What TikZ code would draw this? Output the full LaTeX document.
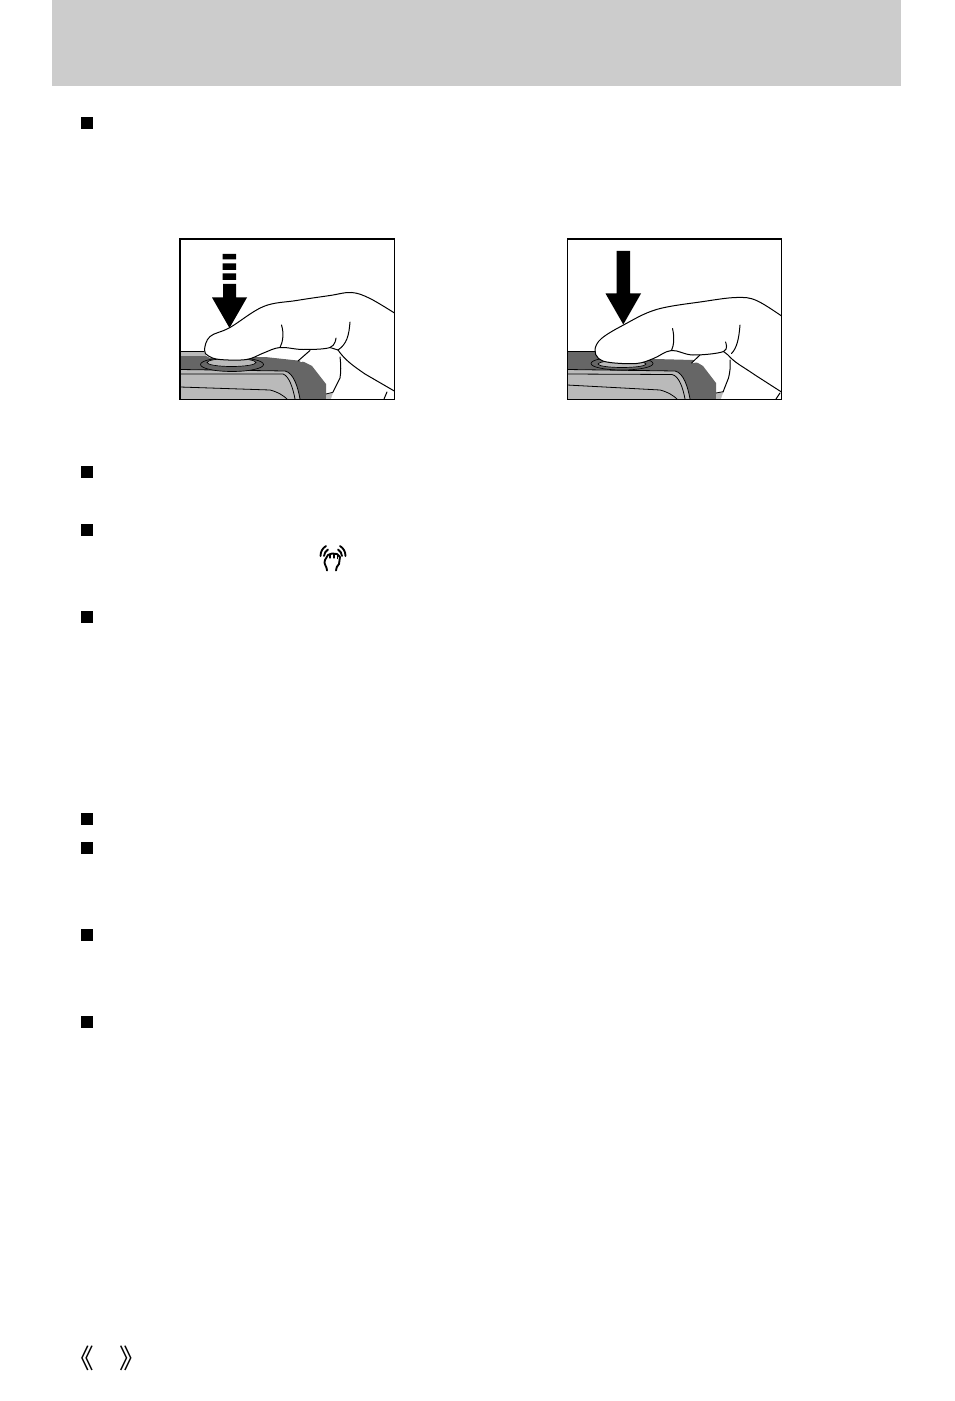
\documentclass[tikz,border=0pt]{standalone}
\usepackage{fontspec}
\newfontfamily\cjkfont{Noto Sans CJK SC}
\definecolor{hdr}{gray}{0.80}
\definecolor{bodydark}{gray}{0.40}
\definecolor{bodylight}{gray}{0.73}
\tikzset{
  bulletbox/.style={fill=black,inner sep=0pt,minimum size=8.8pt,draw=none},
  inkline/.style={draw=black,line width=0.75pt,line join=round,line cap=round},
  framebox/.style={draw=black,line width=1.1pt},
  thinline/.style={draw=black,line width=0.6pt},
  iconline/.style={draw=black,line width=1.4pt,line cap=round,line join=round},
  bracket/.style={font=\cjkfont\fontsize{20pt}{20pt}\selectfont,inner sep=0pt}
}
\begin{document}
\begin{tikzpicture}[x=0.75pt,y=-0.75pt]
\useasboundingbox[fill=white] (0,0) rectangle (954,1401);
\fill[hdr] (52,0) rectangle (901,86);
\foreach \n/\y in {a/123,b/472,c/530,d/617,e/819,f/848,g/935,h/1022}
  \node[bulletbox] (bullet\n) at (87,\y) {};
% left panel
\begin{scope}
\clip (180,239) rectangle (394,399);
\fill[bodylight] (180,351) rectangle (206,357);
\draw[thinline] (180,351) -- (204,351);
\fill[bodydark] (180,356) -- (206,356) -- (210,358) -- (265,357) -- (302,361) -- (312,366) -- (326,384) -- (326,399) -- (180,399) -- cycle;
\fill[bodylight] (180,369.5) -- (285,371) .. controls (294,373) and (298,388) .. (300,399) -- (180,399) -- cycle;
\draw[thinline] (180,369.5) -- (285,371) .. controls (294,373) and (298,388) .. (300,399);
\draw[thinline] (180,374) -- (283,374) .. controls (289,376) and (293,388) .. (295,399);
\draw[thinline] (180,387) -- (270,390) .. controls (278,392) and (284,396) .. (287,399);
\fill[bodylight] (326,394) -- (334,392) -- (340,394) -- (342,399) -- (326,399) -- cycle;
\draw[thinline] (326,394) -- (334,392) -- (340,394) -- (342,399);
% button
\filldraw[fill=bodydark,draw=black,line width=0.5pt] (232,364.5) ellipse (31.5 and 7);
\filldraw[fill=bodylight,draw=black,line width=0.5pt] (231.5,362.5) ellipse (24.5 and 4);
% hand
\path[fill=white] plot[smooth,tension=0.6] coordinates {(396,314) (370,298.5) (351.5,292.5) (330,295.5) (296.5,300.5) (263.5,306.5) (230,327.5) (210,336.5) (204.5,350) (208.5,356) (220,359.5) (246.5,359.5) (263.5,353) (280,347.5) (303,349.5) (330,347.5)} -- (338,350) -- (396,392) -- cycle;
\fill[white] (300,362) -- (310,350) -- (338,350) -- (357,367) -- (396,392) -- (396,399) -- (331,399) -- (340,373) -- (340,357) -- cycle;
\draw[inkline] plot[smooth,tension=0.6] coordinates {(396,314) (370,298.5) (351.5,292.5) (330,295.5) (296.5,300.5) (263.5,306.5) (230,327.5) (210,336.5) (204.5,350) (208.5,356) (220,359.5) (246.5,359.5) (263.5,353) (280,347.5) (303,349.5) (330,347.5) (336,338)};
\draw[inkline] (281.5,325) .. controls (284,333) and (283,342) .. (280,347.5);
\draw[inkline] (350,322) .. controls (349,335) and (347,344) .. (338,350);
\draw[inkline] (330,347.5) -- (338,350) .. controls (345,360) and (352,365) .. (365,374) -- (396,392);
\draw[inkline] (340,357) .. controls (341,365) and (341,372) .. (340,378) -- (333,392);
\draw[inkline] (298,361) -- (310,350.5);
\draw[inkline] (384,399) -- (387,392);
% arrow
\fill[black] (222.5,254) rectangle (236,259.5) (222.5,263.5) rectangle (236,270) (222.5,273.5) rectangle (236,280);
\fill[black] (223,284) -- (236,284) -- (236,297.5) -- (247,297.5) -- (229.5,328) -- (212,297.5) -- (223,297.5) -- cycle;
\end{scope}
\draw[framebox] (180,239) rectangle (394.5,399.5);
% right panel
\begin{scope}
\clip (567.5,239) rectangle (781.5,399);
\fill[bodydark] (567,351.5) -- (595,351.5) -- (600,362) -- (655,359) -- (693,360) -- (703,366) -- (716,383) -- (716,399) -- (567,399) -- cycle;
\fill[bodylight] (567,369.5) -- (675,371) .. controls (684,373) and (688,388) .. (690,399) -- (567,399) -- cycle;
\draw[thinline] (567,369.5) -- (675,371) .. controls (684,373) and (688,388) .. (690,399);
\draw[thinline] (567,374) -- (672,374.5) .. controls (679,376) and (683,388) .. (685,399);
\draw[thinline] (567,385) -- (660,390) .. controls (668,392) and (674,396) .. (677,399);
\fill[bodylight] (716,393) -- (724,391.5) -- (730,393) -- (732,399) -- (716,399) -- cycle;
\draw[thinline] (716,393) -- (724,391.5) -- (730,393) -- (732,399);
\draw[thinline] (567,351) -- (595,351);
\filldraw[fill=bodydark,draw=black,line width=0.5pt] (622,363.5) ellipse (31 and 6.5);
\filldraw[fill=bodylight,draw=black,line width=0.5pt] (622,364) ellipse (24 and 3.5);
\path[fill=white] plot[smooth,tension=0.6] coordinates {(783,317) (756.5,300.5) (736.5,297.5) (703.5,301.5) (656.5,309.5) (623.5,325) (601.5,338.5) (595,349.5) (598.5,358.5) (610,362.5) (636.5,363.5) (653.5,358.5) (671.5,350.5) (693,355) (723.5,351.5)} -- (728,355) -- (783,393) -- cycle;
\fill[white] (691,363) -- (700,355) -- (728,355) -- (750,370) -- (783,393) -- (783,399) -- (721,399) -- (729,376) -- (730,360) -- cycle;
\draw[inkline] plot[smooth,tension=0.6] coordinates {(783,317) (756.5,300.5) (736.5,297.5) (703.5,301.5) (656.5,309.5) (623.5,325) (601.5,338.5) (595,349.5) (598.5,358.5) (610,362.5) (636.5,363.5) (653.5,358.5) (671.5,350.5) (693,355) (723.5,351.5) (725.5,342)};
\draw[inkline] (672.5,328.5) .. controls (674.5,337) and (674,345) .. (671.5,350.5);
\draw[inkline] (740,325) .. controls (739,338) and (737,348) .. (731.5,353.5);
\draw[inkline] (723.5,351.5) -- (728,355) .. controls (735,363) and (742,366) .. (755,375) -- (783,393);
\draw[inkline] (730,360) .. controls (730.5,367) and (730,372) .. (728.5,378) -- (723,392);
\draw[inkline] (691.5,363) -- (700,355);
\draw[inkline] (776,399) -- (780,393);
\fill[black] (616.5,251) -- (630,251) -- (630,293.5) -- (641,293.5) -- (623.3,324.5) -- (605.5,293.5) -- (616.5,293.5) -- cycle;
\end{scope}
\draw[framebox] (567.5,239) rectangle (781.5,399.5);
% hand-shake icon
\begin{scope}
\draw[iconline] (327,570.5) .. controls (327,566) and (323,564) .. (325,560) -- (328,555) -- (332,553.5) -- (337,554) -- (340,557) -- (339,564) .. controls (337,566) and (336,568) .. (336,570.5);
\draw[iconline,line width=0.8pt] (330,554) -- (330,558) (334,553.5) -- (334,558) (337.5,555) -- (337.5,558.5);
\draw[iconline] (320.5,556) .. controls (320.5,551) and (323,548) .. (326,546);
\draw[iconline] (324,556) .. controls (324,553) and (326,551) .. (328,549.5);
\draw[iconline] (345.5,556) .. controls (345.5,551) and (343,548) .. (340,546);
\draw[iconline] (342,556) .. controls (342,553) and (340,551) .. (338,549.5);
\end{scope}
\node[bracket] (open) at (81,1358.5) {《};
\node[bracket] (close) at (133,1358.5) {》};
\end{tikzpicture}
\end{document}
